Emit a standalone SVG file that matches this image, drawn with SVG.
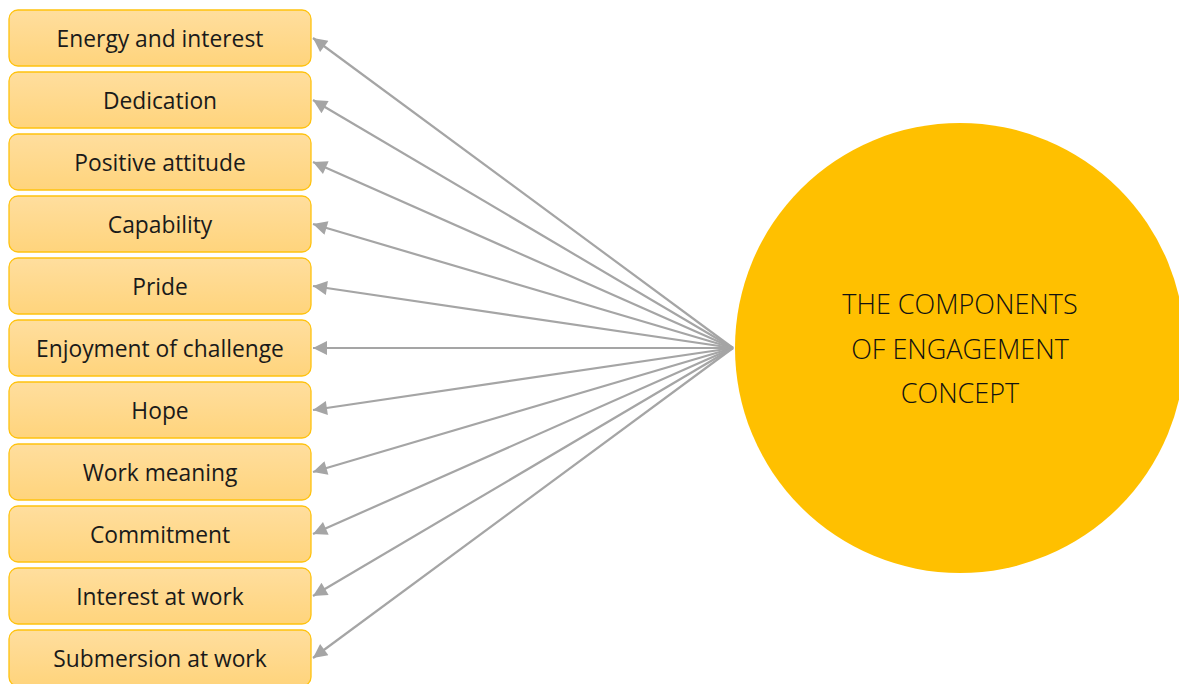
<svg xmlns="http://www.w3.org/2000/svg" width="1179" height="684" viewBox="0 0 1179 684">
<style>
.box{fill:url(#g);stroke:#FFC20E;stroke-width:1.3}
.lbl{font-family:"Open Sans","Noto Sans",sans-serif;font-size:22.8px;fill:#1a1a1a;text-anchor:middle}
.ctr{font-family:"Open Sans","Noto Sans",sans-serif;font-size:27px;fill:#111;text-anchor:middle;font-weight:300}
</style>
<defs>
<linearGradient id="g" x1="0" y1="0" x2="0" y2="1">
<stop offset="0" stop-color="#FFDE9E"/>
<stop offset="1" stop-color="#FFD47C"/>
</linearGradient>
<marker id="ah2" viewBox="0 0 10 10" refX="10" refY="5" markerWidth="18" markerHeight="14" markerUnits="userSpaceOnUse" orient="auto">
<path d="M0,0 L10,5 L0,10 z" fill="#A5A5A5"/>
</marker>
</defs>
<rect width="1179" height="684" fill="#fff"/>
<g id="center"><circle cx="960" cy="348" r="225" fill="#FFC000"/>
<text class="ctr" x="960" y="314">THE COMPONENTS</text>
<text class="ctr" x="960" y="359">OF ENGAGEMENT</text>
<text class="ctr" x="960" y="403">CONCEPT</text></g>
<g id="connectors" stroke="#A5A5A5" stroke-width="2.2" fill="none">
<path d="M733,348 L313,38" marker-end="url(#ah2)"/>
<path d="M733,348 L313,100" marker-end="url(#ah2)"/>
<path d="M733,348 L313,162" marker-end="url(#ah2)"/>
<path d="M733,348 L313,224" marker-end="url(#ah2)"/>
<path d="M733,348 L313,286" marker-end="url(#ah2)"/>
<path d="M733,348 L313,348" marker-end="url(#ah2)"/>
<path d="M733,348 L313,410" marker-end="url(#ah2)"/>
<path d="M733,348 L313,472" marker-end="url(#ah2)"/>
<path d="M733,348 L313,534" marker-end="url(#ah2)"/>
<path d="M733,348 L313,596" marker-end="url(#ah2)"/>
<path d="M733,348 L313,658" marker-end="url(#ah2)"/>
</g>
<g id="n1"><rect class="box" x="9" y="10" width="302" height="56" rx="9"/><text class="lbl" x="160" y="47">Energy and interest</text></g>
<g id="n2"><rect class="box" x="9" y="72" width="302" height="56" rx="9"/><text class="lbl" x="160" y="109">Dedication</text></g>
<g id="n3"><rect class="box" x="9" y="134" width="302" height="56" rx="9"/><text class="lbl" x="160" y="171">Positive attitude</text></g>
<g id="n4"><rect class="box" x="9" y="196" width="302" height="56" rx="9"/><text class="lbl" x="160" y="233">Capability</text></g>
<g id="n5"><rect class="box" x="9" y="258" width="302" height="56" rx="9"/><text class="lbl" x="160" y="295">Pride</text></g>
<g id="n6"><rect class="box" x="9" y="320" width="302" height="56" rx="9"/><text class="lbl" x="160" y="357">Enjoyment of challenge</text></g>
<g id="n7"><rect class="box" x="9" y="382" width="302" height="56" rx="9"/><text class="lbl" x="160" y="419">Hope</text></g>
<g id="n8"><rect class="box" x="9" y="444" width="302" height="56" rx="9"/><text class="lbl" x="160" y="481">Work meaning</text></g>
<g id="n9"><rect class="box" x="9" y="506" width="302" height="56" rx="9"/><text class="lbl" x="160" y="543">Commitment</text></g>
<g id="n10"><rect class="box" x="9" y="568" width="302" height="56" rx="9"/><text class="lbl" x="160" y="605">Interest at work</text></g>
<g id="n11"><rect class="box" x="9" y="630" width="302" height="56" rx="9"/><text class="lbl" x="160" y="667">Submersion at work</text></g>
</svg>
